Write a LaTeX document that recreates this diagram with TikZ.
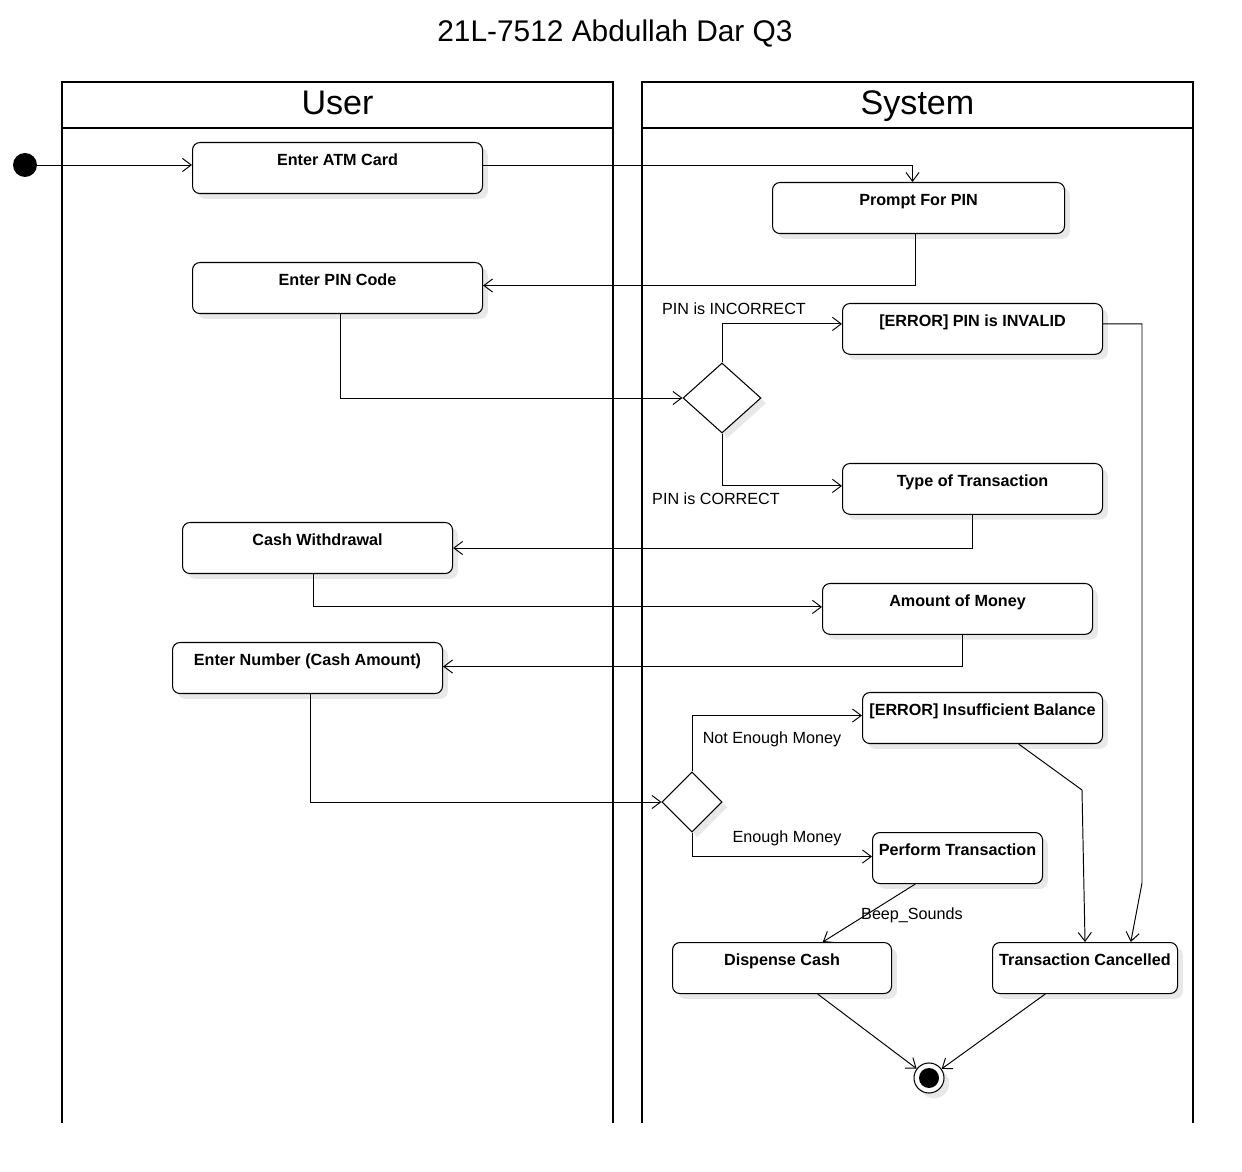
\documentclass[tikz,border=0pt]{standalone}
\usepackage{fontspec}
\setmainfont{Liberation Sans}
\usetikzlibrary{arrows.meta,shapes.geometric,shadows,calc}
\tikzset{
  lane/.style={line width=1.6pt, line cap=rect},
  shad/.style={drop shadow={shadow xshift=3pt, shadow yshift=-3pt, fill=black!9, opacity=1}},
  actbox/.style={draw, line width=0.6pt, rounded corners=4.2pt, fill=white, shad,
    anchor=north west, inner xsep=0pt, inner ysep=0pt, minimum height=51*0.02cm,
    text height=13pt, text depth=15.9pt, font=\fontsize{9.2}{11}\selectfont\bfseries},
  dec/.style={draw, diamond, line width=0.6pt, fill=white, shad, inner sep=0pt},
  flow/.style={line width=0.55pt, -{Straight Barb[length=5pt,width=7.5pt]}},
  elabel/.style={anchor=base, inner sep=0pt, font=\fontsize{9.2}{11}\selectfont},
  lanetitle/.style={anchor=base, inner sep=0pt, font=\fontsize{19.4}{22}\selectfont},
}
\begin{document}
\begin{tikzpicture}[x=0.02cm, y=-0.02cm]
\useasboundingbox (0,0) rectangle (1242,1172);
% title
\node[anchor=base, inner sep=0pt, font=\fontsize{17}{20}\selectfont] (title) at (615,42) {21L-7512 Abdullah Dar Q3};
% swimlanes
\draw[lane] (62,1122) -- (62,82) -- (613,82) -- (613,1122);
\draw[lane] (62,128) -- (613,128);
\draw[lane] (642,1122) -- (642,82) -- (1193,82) -- (1193,1122);
\draw[lane] (642,128) -- (1193,128);
\node[lanetitle] (user) at (337.5,115) {User};
\node[lanetitle] (system) at (917.5,115) {System};
% start / end
\node[circle, fill=black, minimum size=24*0.02cm, inner sep=0pt] (start) at (25,165) {};
\node[circle, draw, line width=0.6pt, fill=white, minimum size=30*0.02cm, inner sep=0pt, shad,
  path picture={\fill[black] (path picture bounding box.center) circle (10*0.02cm);}] (end) at (929,1078) {};
% activities
\node[actbox, minimum width=290*0.02cm] (atm) at (192,142) {Enter ATM Card};
\node[actbox, minimum width=292*0.02cm] (prompt) at (772,182) {Prompt For PIN};
\node[actbox, minimum width=290*0.02cm] (pin) at (192,262) {Enter PIN Code};
\node[actbox, minimum width=260*0.02cm, minimum height=50*0.02cm] (errpin) at (842,303) {[ERROR] PIN is INVALID};
\node[actbox, minimum width=260*0.02cm, minimum height=50*0.02cm] (type) at (842,463) {Type of Transaction};
\node[actbox, minimum width=270*0.02cm] (cashw) at (182,522) {Cash Withdrawal};
\node[actbox, minimum width=270*0.02cm, minimum height=50*0.02cm] (amount) at (822,583) {Amount of Money};
\node[actbox, minimum width=270*0.02cm] (enternum) at (172,642) {Enter Number (Cash Amount)};
\node[actbox, minimum width=240*0.02cm] (insuf) at (862,692) {[ERROR] Insufficient Balance};
\node[actbox, minimum width=170*0.02cm] (perform) at (872,832) {Perform Transaction};
\node[actbox, minimum width=219*0.02cm] (dispense) at (672,942) {Dispense Cash};
\node[actbox, minimum width=185*0.02cm] (cancelled) at (992,942) {Transaction Cancelled};
% decisions
\node[dec, minimum width=78*0.02cm, minimum height=70*0.02cm] (d1) at (722,398) {};
\node[dec, minimum width=60*0.02cm, minimum height=60*0.02cm] (d2) at (692,802) {};
% bend points
\coordinate (b1) at (1082,790);
\coordinate (b2) at (1142,883);
% connectors
\draw[flow] (start) -- (start -| atm.west);
\draw[flow] ([yshift=0.05cm]atm.east) -| ([xshift=-0.12cm]prompt.north);
\draw[flow] ([xshift=-0.06cm]prompt.south) |- ([yshift=0.05cm]pin.east);
\draw[flow] ([xshift=0.06cm]pin.south) |- (d1.west);
\draw[flow] (d1.north) |- ([yshift=0.1cm]errpin.west);
\draw[flow] (d1.south) |- ([yshift=0.06cm]type.west);
\draw[flow] (type.south) |- (cashw.east);
\draw[flow] ([xshift=-0.08cm]cashw.south) |- ([yshift=0.04cm]amount.west);
\draw[flow] ([xshift=0.1cm]amount.south) |- ([yshift=0.03cm]enternum.east);
\draw[flow] ([xshift=0.06cm]enternum.south) |- (d2.west);
\draw[flow] (d2.north) |- ([yshift=0.05cm]insuf.west);
\draw[flow] (d2.south) |- ([yshift=0.03cm]perform.west);
\draw[flow] ($(perform.south west)!0.253!(perform.south east)$) -- ($(dispense.north west)!0.685!(dispense.north east)$);
\draw[flow] ($(insuf.south west)!0.65!(insuf.south east)$) -- (b1) -- (cancelled.north);
\draw[flow] ([yshift=0.1cm]errpin.east) -| (b2) -- ($(cancelled.north west)!0.746!(cancelled.north east)$);
\draw[flow] ($(dispense.south west)!0.662!(dispense.south east)$) -- (end);
\draw[flow] ($(cancelled.south west)!0.286!(cancelled.south east)$) -- (end);
% connector labels
\node[elabel] (l1) at (734,315) {PIN is INCORRECT};
\node[elabel] (l2) at (716,505) {PIN is CORRECT};
\node[elabel] (l3) at (772,744) {Not Enough Money};
\node[elabel] (l4) at (787,843) {Enough Money};
\node[elabel] (l5) at (912,919) {Beep\_Sounds};
\end{tikzpicture}
\end{document}
